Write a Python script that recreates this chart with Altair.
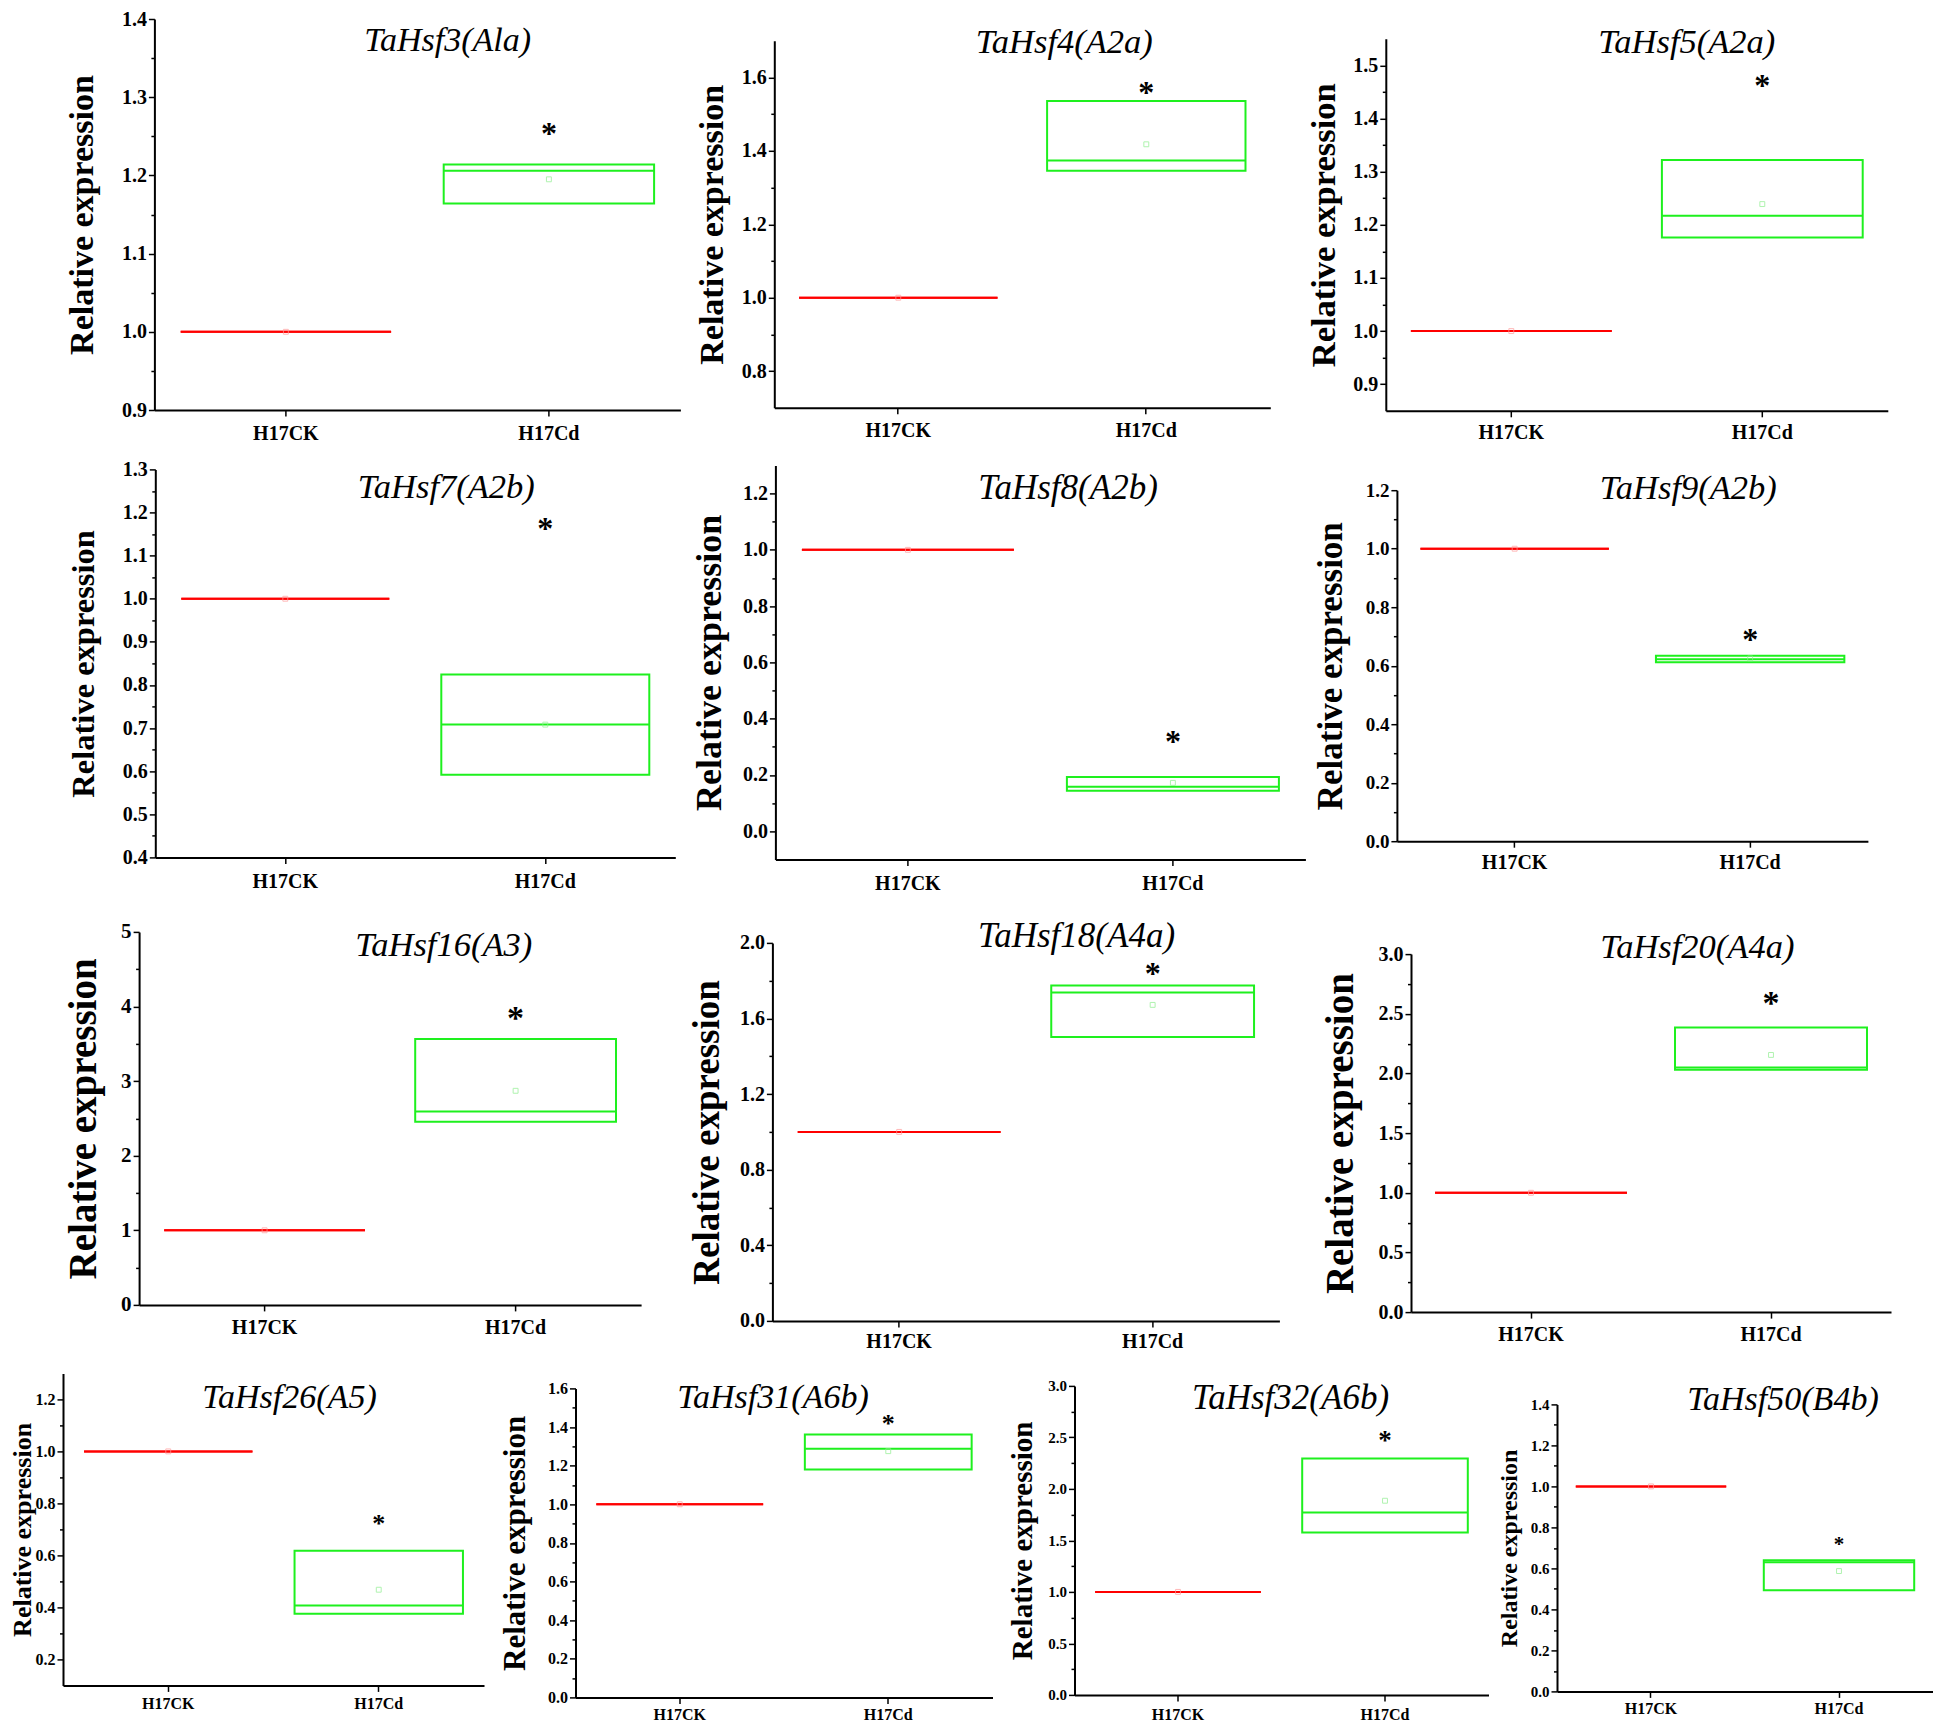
import altair as alt
import pandas as pd

# ---------------- data ----------------
GROUPS = ["H17CK", "H17Cd"]
GENES = ["TaHsf3(Ala)", "TaHsf4(A2a)", "TaHsf5(A2a)", "TaHsf7(A2b)", "TaHsf8(A2b)",
         "TaHsf9(A2b)", "TaHsf16(A3)", "TaHsf18(A4a)", "TaHsf20(A4a)", "TaHsf26(A5)",
         "TaHsf31(A6b)", "TaHsf32(A6b)", "TaHsf50(B4b)"]
CK_LEVEL = [1.0, 1.0, 1.0, 1.0, 1.0, 1.0, 1.0, 1.0, 1.0, 1.0, 1.0, 1.0, 1.0]
CD_Q1 = [1.164, 1.346, 1.176, 0.592, 0.144, 0.612, 2.455, 1.502, 2.030, 0.376, 1.180, 1.577, 0.493]
CD_Q3 = [1.214, 1.536, 1.322, 0.824, 0.193, 0.634, 3.564, 1.774, 2.385, 0.618, 1.361, 2.295, 0.640]
CD_MEDIAN = [1.206, 1.374, 1.217, 0.708, 0.158, 0.622, 2.594, 1.737, 2.050, 0.407, 1.287, 1.771, 0.630]
CD_MEAN = [1.195, 1.418, 1.239, 0.708, 0.172, 0.625, 2.870, 1.672, 2.155, 0.468, 1.275, 1.885, 0.587]
STAR_Y = [1.260, 1.575, 1.472, 1.176, 0.337, 0.708, 3.907, 1.867, 2.630, 0.739, 1.439, 2.515, 0.734]
Y_MIN = [0.9, 0.7, 0.85, 0.4, -0.1, 0.0, 0.0, 0.0, 0.0, 0.1, 0.0, 0.0, 0.0]
Y_MAX = [1.4, 1.7, 1.55, 1.3, 1.3, 1.2, 5.0, 2.0, 3.0, 1.3, 1.6, 3.0, 1.4]
MAJOR = [
    [0.9, 1.0, 1.1, 1.2, 1.3, 1.4],
    [0.8, 1.0, 1.2, 1.4, 1.6],
    [0.9, 1.0, 1.1, 1.2, 1.3, 1.4, 1.5],
    [0.4, 0.5, 0.6, 0.7, 0.8, 0.9, 1.0, 1.1, 1.2, 1.3],
    [0.0, 0.2, 0.4, 0.6, 0.8, 1.0, 1.2],
    [0.0, 0.2, 0.4, 0.6, 0.8, 1.0, 1.2],
    [0, 1, 2, 3, 4, 5],
    [0.0, 0.4, 0.8, 1.2, 1.6, 2.0],
    [0.0, 0.5, 1.0, 1.5, 2.0, 2.5, 3.0],
    [0.2, 0.4, 0.6, 0.8, 1.0, 1.2],
    [0.0, 0.2, 0.4, 0.6, 0.8, 1.0, 1.2, 1.4, 1.6],
    [0.0, 0.5, 1.0, 1.5, 2.0, 2.5, 3.0],
    [0.0, 0.2, 0.4, 0.6, 0.8, 1.0, 1.2, 1.4],
]
MINOR = [
    [0.95, 1.05, 1.15, 1.25, 1.35],
    [0.9, 1.1, 1.3, 1.5],
    [0.95, 1.05, 1.15, 1.25, 1.35, 1.45],
    [0.45, 0.55, 0.65, 0.75, 0.85, 0.95, 1.05, 1.15, 1.25],
    [0.1, 0.3, 0.5, 0.7, 0.9, 1.1],
    [0.1, 0.3, 0.5, 0.7, 0.9, 1.1],
    [0.5, 1.5, 2.5, 3.5, 4.5],
    [0.2, 0.6, 1.0, 1.4, 1.8],
    [0.25, 0.75, 1.25, 1.75, 2.25, 2.75],
    [0.3, 0.5, 0.7, 0.9, 1.1],
    [0.1, 0.3, 0.5, 0.7, 0.9, 1.1, 1.3, 1.5],
    [0.25, 0.75, 1.25, 1.75, 2.25, 2.75],
    [0.1, 0.3, 0.5, 0.7, 0.9, 1.1, 1.3],
]
TICK_FORMAT = [".1f", ".1f", ".1f", ".1f", ".1f", ".1f", "d", ".1f", ".1f", ".1f", ".1f", ".1f", ".1f"]

# ---------------- styling / layout (reference pixel frame) ----------------
SERIF = "Liberation Serif"
RED = "#FF0000"
GREEN = "#1EF01E"
RED_LIGHT = "#FF9A9A"
GREEN_LIGHT = "#8FEF8F"

LAYOUT = [
    dict(left=152.7, top=11, w=526, h=391, yt_x=-72.3, yt_fs=34, tk_fs=20, xl_fs=20, xl_pad=7.6, t_fs=34, t_dx=30.3, t_c=22, st_fs=32),
    dict(left=772, top=32, w=496, h=367, yt_x=-62, yt_fs=34, tk_fs=20, xl_fs=20, xl_pad=6.6, t_fs=34.5, t_dx=42, t_c=1, st_fs=32),
    dict(left=1382, top=30, w=502, h=372, yt_x=-61, yt_fs=34.5, tk_fs=20, xl_fs=20, xl_pad=5.6, t_fs=34.5, t_dx=50, t_c=3, st_fs=32),
    dict(left=154, top=469, w=520, h=388, yt_x=-71.4, yt_fs=32.5, tk_fs=20, xl_fs=20, xl_pad=7.6, t_fs=34.5, t_dx=31, t_c=19, st_fs=32),
    dict(left=773.4, top=466, w=530, h=394, yt_x=-66, yt_fs=36, tk_fs=20, xl_fs=20, xl_pad=7.6, t_fs=35, t_dx=27.6, t_c=22, st_fs=32),
    dict(left=1395.6, top=489, w=471, h=351, yt_x=-66.8, yt_fs=35, tk_fs=19, xl_fs=20, xl_pad=5.6, t_fs=34.5, t_dx=55.9, t_c=-1, st_fs=32),
    dict(left=138.4, top=932, w=502, h=373, yt_x=-55.8, yt_fs=39, tk_fs=21, xl_fs=20, xl_pad=6.6, t_fs=34.5, t_dx=53.6, t_c=15, st_fs=34),
    dict(left=770.5, top=943, w=507, h=378, yt_x=-65.2, yt_fs=37, tk_fs=20, xl_fs=20, xl_pad=4.6, t_fs=35, t_dx=50.6, t_c=-6, st_fs=32),
    dict(left=1409.2, top=953, w=480, h=358, yt_x=-70.2, yt_fs=39, tk_fs=20, xl_fs=20, xl_pad=6.6, t_fs=34.5, t_dx=46.3, t_c=-6, st_fs=34),
    dict(left=62, top=1383, w=421, h=312, yt_x=-41, yt_fs=26, tk_fs=16, xl_fs=16, xl_pad=4.5, t_fs=34, t_dx=16, t_c=24, st_fs=26),
    dict(left=575, top=1397, w=417, h=309, yt_x=-60, yt_fs=31, tk_fs=16, xl_fs=16, xl_pad=3.5, t_fs=34, t_dx=-11, t_c=10, st_fs=26),
    dict(left=1075, top=1395, w=414, h=309, yt_x=-52, yt_fs=29, tk_fs=15, xl_fs=16, xl_pad=5.5, t_fs=35, t_dx=9, t_c=12, st_fs=27),
    dict(left=1558, top=1413, w=376, h=287, yt_x=-48, yt_fs=24, tk_fs=15, xl_fs=16, xl_pad=3.5, t_fs=34, t_dx=38, t_c=-5, st_fs=21),
]
ROWS = [[0, 1, 2], [3, 4, 5], [6, 7, 8], [9, 10, 11, 12]]
ROW_SHIFT = [0, 0, 0, -9]


def star_dy(i):
    return round(0.19 * LAYOUT[i]["st_fs"])


def ypix(i, v):
    lo, hi = Y_MIN[i], Y_MAX[i]
    return (hi - v) / (hi - lo) * LAYOUT[i]["h"]


def view_top(i):
    L = LAYOUT[i]
    c = [-1.0]
    for v in MAJOR[i]:
        c.append(ypix(i, v) - L["tk_fs"] / 2)
    c.append(ypix(i, STAR_Y[i]) + star_dy(i) - L["st_fs"] / 2)
    return min(c)


def title_offset(i):
    L = LAYOUT[i]
    return round(view_top(i) - L["t_c"] - L["t_fs"] / 2, 1)


def bound_box(i):
    L = LAYOUT[i]
    top = min(view_top(i), L["t_c"] - L["t_fs"] / 2)
    left = L["yt_fs"] / 2 - L["yt_x"]
    bottom = 6 + L["xl_pad"] + L["xl_fs"]
    return (L["left"] - left, L["top"] + top, L["left"] + L["w"] + 1, L["top"] + L["h"] + bottom)


def spacer():
    return alt.Chart(pd.DataFrame({"s": [0]})).mark_point(opacity=0, size=1).properties(width=1, height=1)


def panel(i):
    L = LAYOUT[i]
    box_df = pd.DataFrame({
        "group": GROUPS,
        "q1": [CK_LEVEL[i], CD_Q1[i]],
        "q3": [CK_LEVEL[i], CD_Q3[i]],
        "median": [CK_LEVEL[i], CD_MEDIAN[i]],
        "mean": [CK_LEVEL[i], CD_MEAN[i]],
    })
    star_df = pd.DataFrame({"group": [GROUPS[1]], "star": [STAR_Y[i]]})

    xenc = alt.X(
        "group:N", sort=GROUPS,
        scale=alt.Scale(domain=GROUPS, paddingInner=0.2, paddingOuter=0.1),
        axis=alt.Axis(title=None, labelAngle=0, labelFont=SERIF, labelFontSize=L["xl_fs"],
                      labelFontWeight="bold", labelColor="black", labelPadding=L["xl_pad"],
                      tickSize=6, tickWidth=1.5, tickColor="black", domainColor="black",
                      domainWidth=2, grid=False),
    )
    yscale = alt.Scale(domain=[Y_MIN[i], Y_MAX[i]], nice=False, zero=False)
    yaxis = alt.Axis(
        values=MAJOR[i], format=TICK_FORMAT[i], title="Relative expression",
        titleFont=SERIF, titleFontSize=L["yt_fs"], titleFontWeight="bold", titleColor="black",
        titleX=L["yt_x"], titleY=L["h"] / 2, titleAngle=270, titleAlign="center",
        titleBaseline="middle",
        labelFont=SERIF, labelFontSize=L["tk_fs"], labelFontWeight="bold", labelColor="black",
        labelPadding=2, labelOverlap=False, labelFlush=False,
        tickSize=6, tickWidth=1.5, tickColor="black", domainColor="black", domainWidth=2,
        grid=False,
    )
    stroke = alt.condition(alt.datum.group == GROUPS[0], alt.value(RED), alt.value(GREEN))
    light = alt.condition(alt.datum.group == GROUPS[0], alt.value(RED_LIGHT), alt.value(GREEN_LIGHT))

    base = alt.Chart(box_df)
    box = base.mark_bar(fill="transparent", strokeWidth=2).encode(
        x=xenc, y=alt.Y("q1:Q", scale=yscale, axis=yaxis), y2="q3:Q", stroke=stroke)
    med = base.mark_bar(fill="transparent", strokeWidth=2).encode(
        x=xenc, y=alt.Y("median:Q", scale=yscale, axis=yaxis), y2="median:Q", stroke=stroke)
    mean = base.mark_point(shape="square", size=24, filled=False, strokeWidth=1).encode(
        x=xenc, y=alt.Y("mean:Q", scale=yscale, axis=yaxis), stroke=light)
    star = alt.Chart(star_df).mark_text(
        text="*", font=SERIF, fontWeight="bold", fontSize=L["st_fs"], color="black",
        baseline="middle", align="center", dy=star_dy(i)).encode(
        x=xenc, y=alt.Y("star:Q", scale=yscale, axis=yaxis))
    main = alt.layer(box, med, mean, star)

    minor = base.mark_point(opacity=0, size=1).encode(
        y=alt.Y("q1:Q", scale=yscale,
                axis=alt.Axis(values=MINOR[i], orient="left", labels=False, domain=False,
                              tickSize=3.5, tickWidth=1.5, tickColor="black", grid=False,
                              title=None)))

    return alt.layer(main, minor).resolve_axis(y="independent").properties(
        width=L["w"], height=L["h"],
        title=alt.TitleParams(
            text=GENES[i], font=SERIF, fontSize=L["t_fs"], fontStyle="italic",
            fontWeight="normal", color="black", anchor="middle", frame="group",
            orient="top", offset=title_offset(i), dx=L["t_dx"]),
    )


BOX = [bound_box(i) for i in range(13)]
XL = min(b[0] for b in BOX) - 1

rows = []
for idxs in ROWS:
    RT = min(BOX[i][1] for i in idxs) - 1
    RB = max(BOX[i][3] for i in idxs)
    acc = spacer()
    prev_right = XL + 1
    for i in idxs:
        dy = round(max(0.0, BOX[i][1] - RT - 1), 1)
        wrapped = alt.vconcat(spacer(), panel(i), spacing=dy)
        gap = round(max(0.0, BOX[i][0] - prev_right), 1)
        acc = alt.hconcat(acc, wrapped, spacing=gap)
        prev_right = BOX[i][2]
    rows.append((acc, RT, RB))

shift0 = 8 - rows[0][1]
shifts = [shift0] + ROW_SHIFT[1:]
fig = rows[0][0]
prev_bottom = rows[0][2] + shifts[0]
for r in range(1, len(rows)):
    gap = round(max(0.0, rows[r][1] + shifts[r] - prev_bottom), 1)
    fig = alt.vconcat(fig, rows[r][0], spacing=gap)
    prev_bottom = rows[r][2] + shifts[r]

chart = fig.properties(padding=0, background="white").configure_view(strokeWidth=0)

chart.save("out.html", embed_options={"renderer": "svg", "actions": False})
